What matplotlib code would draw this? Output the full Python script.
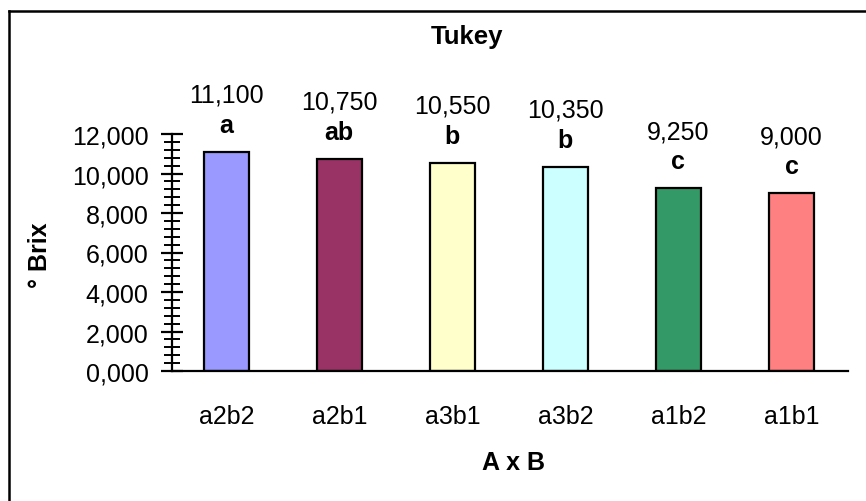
import matplotlib
matplotlib.use("Agg")
import matplotlib.pyplot as plt
from matplotlib.lines import Line2D
from matplotlib.ticker import MultipleLocator, FuncFormatter

# Treatment means (°Brix) and Tukey grouping letters
treatments = ["a2b2", "a2b1", "a3b1", "a3b2", "a1b2", "a1b1"]
brix = [11.100, 10.750, 10.550, 10.350, 9.250, 9.000]
groups = ["a", "ab", "b", "b", "c", "c"]
bar_colors = ["#9999FF", "#993366", "#FFFFCC", "#CCFFFF", "#339966", "#FF8080"]

plt.rcParams["font.family"] = ["Liberation Sans", "DejaVu Sans"]
FS = 18

W, H = 866, 502
fig = plt.figure(figsize=(W / 100, H / 100), dpi=100)
fig.patch.set_facecolor("white")

ax = fig.add_axes([172 / W, (H - 372) / H, 676 / W, 237 / H])
x = list(range(len(treatments)))
ax.bar(x, brix, width=0.4, color=bar_colors, edgecolor="black", linewidth=1.6, zorder=2)

ax.set_xlim(-0.48, 5.5)
ax.set_ylim(0, 12)
for s in ("top", "right"):
    ax.spines[s].set_visible(False)
ax.spines["left"].set_linewidth(1.6)
ax.spines["bottom"].set_linewidth(1.6)

ax.yaxis.set_major_locator(MultipleLocator(2))
ax.yaxis.set_minor_locator(MultipleLocator(0.4))
ax.yaxis.set_major_formatter(FuncFormatter(lambda v, p: f"{v:.3f}".replace(".", ",")))
ax.tick_params(axis="y", which="major", direction="inout", length=16, width=1.6,
               labelsize=FS, pad=9)
ax.tick_params(axis="y", which="minor", direction="inout", length=11, width=1.4)

ax.set_xticks(x)
ax.set_xticklabels(treatments)
ax.tick_params(axis="x", length=0, labelsize=FS, pad=24)

# Value and grouping labels above each bar
for xi, v, g in zip(x, brix, groups):
    ax.annotate(f"{v:.3f}".replace(".", ","), (xi, v), xytext=(0, 57),
                textcoords="offset pixels", ha="center", va="center",
                fontsize=FS, annotation_clip=False)
    ax.annotate(g, (xi, v), xytext=(0, 27), textcoords="offset pixels",
                ha="center", va="center", fontsize=FS, fontweight="bold",
                annotation_clip=False)

fig.text(467 / W, 1 - 37 / H, "Tukey", ha="center", va="center",
         fontsize=FS + 0.5, fontweight="bold")
fig.text(40 / W, 1 - 255 / H, "° Brix", ha="center", va="center",
         rotation=90, fontsize=FS, fontweight="bold")
fig.text(513 / W, 1 - 463 / H, "A x B", ha="center", va="center",
         fontsize=FS, fontweight="bold")

# Chart-area frame
fig.add_artist(Line2D([8.5 / W, 8.5 / W], [0, 1 - 11.5 / H], transform=fig.transFigure,
                      color="black", linewidth=1.8))
fig.add_artist(Line2D([8.5 / W, 1], [1 - 11.5 / H, 1 - 11.5 / H], transform=fig.transFigure,
                      color="black", linewidth=1.8))

fig.savefig("out.png", dpi=100, facecolor="white")
